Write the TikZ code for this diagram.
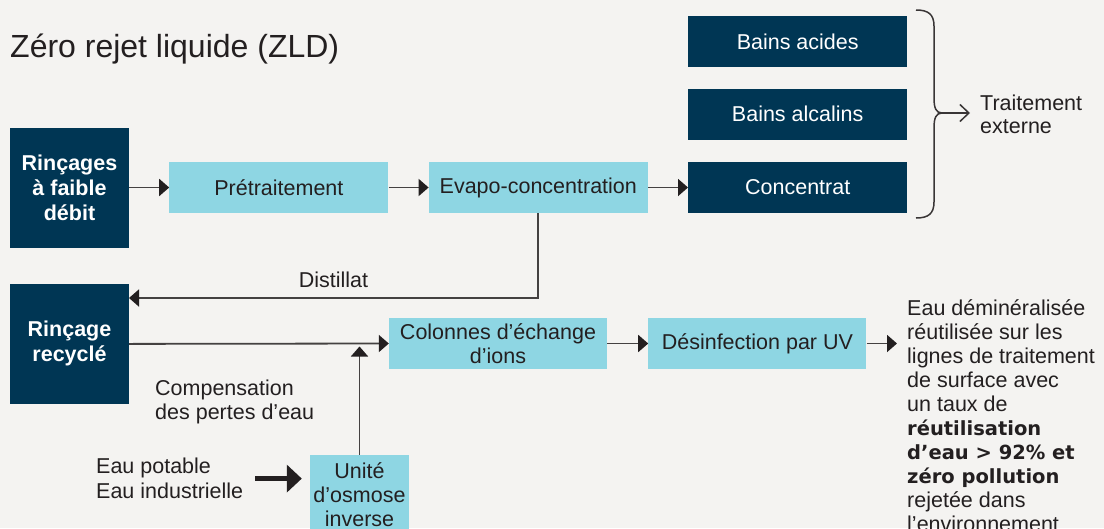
\documentclass[tikz,border=0pt]{standalone}
\usepackage{fontspec}
\setmainfont{Liberation Sans}
\newfontfamily\heavyfont{DejaVu Sans}
\usepackage{xcolor}
\usetikzlibrary{positioning, arrows.meta}

\definecolor{navy}{HTML}{003654}
\definecolor{cyanbox}{HTML}{8ED6E3}
\definecolor{paper}{HTML}{F4F3F1}
\definecolor{ink}{HTML}{231F20}

\begin{document}
\begin{tikzpicture}[
x=1pt, y=-1pt,
node distance=40pt,
font=\fontsize{21.5}{24}\selectfont,
darkbox/.style={fill=navy, text=white, inner sep=0pt, align=center, minimum width=219pt, minimum height=51pt},
bigbox/.style={darkbox, font=\fontsize{21.5}{25}\selectfont\bfseries, minimum width=119pt, minimum height=120pt},
lightbox/.style={fill=cyanbox, text=ink, inner sep=0pt, align=center, minimum width=219pt, minimum height=51pt},
lbl/.style={text=ink, inner sep=0pt, align=left},
arr/.style={draw=ink!85, line width=1.8pt, -{Triangle[length=10pt, width=17pt, color=ink]}},
thickarr/.style={draw=ink, line width=5pt, -{Triangle[length=15pt, width=27pt]}},
openarr/.style={draw=ink!90, line width=1.5pt, -{Straight Barb[length=9pt, width=17pt]}},
>=Stealth
]

\useasboundingbox (0,0) rectangle (1104,528);
\fill[paper] (0,0) rectangle (1104,528);

% title
\node[lbl, anchor=base west, font=\fontsize{32}{36}\selectfont] (titre) at (10,57) {Zéro rejet liquide (ZLD)};

% top row
\node[bigbox] (rincages) at (69.5,187.5) {Rinçages\\à faible\\débit};
\node[lightbox, right=of rincages] (pretrait) {Prétraitement};
\node[lightbox, right=of pretrait] (evapo) {Evapo-concentration};
\node[darkbox, right=of evapo] (concentrat) {Concentrat};
\node[darkbox, above=22pt of concentrat] (alcalins) {Bains alcalins};
\node[darkbox, above=21pt of alcalins] (acides) {Bains acides};

\draw[arr] (rincages.east) -- (pretrait.west);
\draw[arr] (pretrait.east) -- (evapo.west);
\draw[arr] (evapo.east) -- (concentrat.west);

% brace and external treatment
\draw[draw=ink!90, line width=1.5pt] (916,10) .. controls (928,10) and (934,14) .. (934,26) -- (934,98)
  .. controls (934,108) and (936,113) .. (942,113)
  .. controls (936,113) and (934,118) .. (934,128) -- (934,202)
  .. controls (934,214) and (928,218) .. (916,218);
\coordinate (bracetip) at (940,113);
\node[lbl, anchor=north west, font=\fontsize{21.5}{23}\selectfont] (externe) at (980,95) {Traitement\\externe};
\draw[openarr] (bracetip) -- (bracetip -| externe.west) [shorten >=10pt];

% bottom row
\node[bigbox, below=36pt of rincages] (recycle) {Rinçage\\recyclé};
\node[lightbox, minimum width=218pt] (colonnes) at (498,343.5) {Colonnes d’échange\\d’ions};
\node[lightbox, minimum width=218pt, right=41pt of colonnes] (desinf) {Désinfection par UV};
\node[lightbox, minimum width=99pt, minimum height=80pt] (osmose) at (359.5,495) {Unité\\d’osmose\\inverse};

% distillat back to rinsing
\coordinate (distil) at (129,298);
\draw[arr] (evapo.south) |- (distil);
\node[lbl, anchor=base] (distlbl) at (333.5,287) {Distillat};

\draw[arr] (recycle.east) -- (colonnes.west);
\draw[arr] (colonnes.east) -- (desinf.west);
\draw[arr, shorten >=3pt] (osmose.north) -- (osmose.north |- colonnes.west);

\node[lbl, anchor=north west] (compens) at (155,380) {Compensation\\des pertes d’eau};
\node[lbl, anchor=north west, font=\fontsize{21.5}{25}\selectfont] (eau) at (96,458) {Eau potable\\Eau industrielle};
\draw[thickarr, shorten >=8pt] ([xshift=12pt]eau.east) -- (osmose.west |- eau.east);

% result text
\node[lbl, anchor=north west] (resultat) at (907,299) {Eau déminéralisée\\
réutilisée sur les\\
lignes de traitement\\
de surface avec\\
un taux de\\
{\heavyfont\bfseries\fontsize{19.5}{24}\selectfont réutilisation}\\
{\heavyfont\bfseries\fontsize{19.5}{24}\selectfont d’eau > 92\% et}\\
{\heavyfont\bfseries\fontsize{19.5}{24}\selectfont zéro pollution}\\
rejetée dans\\
l’environnement};
\draw[arr, shorten >=10pt] (desinf.east) -- (desinf.east -| resultat.west);

\end{tikzpicture}
\end{document}
